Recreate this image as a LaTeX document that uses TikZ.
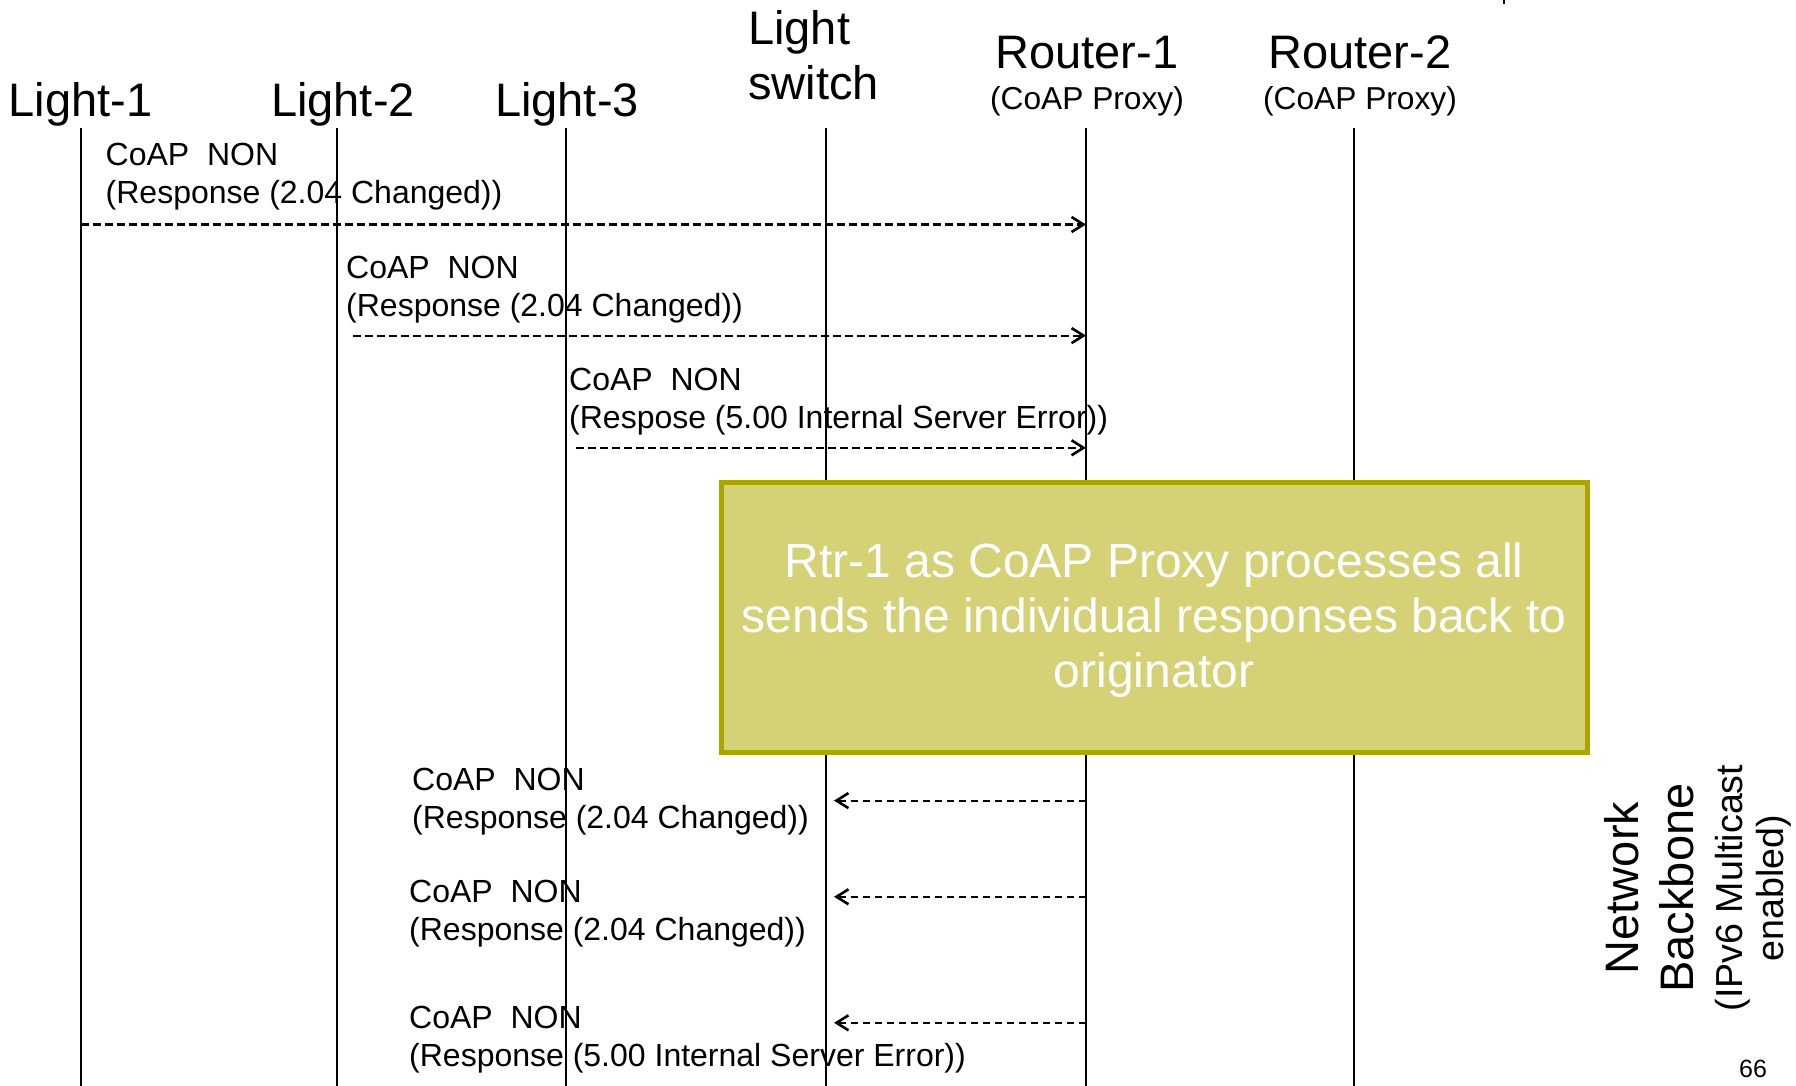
\documentclass[tikz,border=0pt]{standalone}
\usepackage{fontspec}
\setmainfont{Liberation Sans}
\usetikzlibrary{arrows.meta,calc}
\definecolor{notefill}{RGB}{213,209,119}
\definecolor{noteedge}{RGB}{170,165,0}

\begin{document}
\begin{tikzpicture}[x=1pt,y=-1pt,
  hdr/.style={font=\fontsize{47}{55}\selectfont, inner sep=0pt, anchor=base},
  hdrsub/.style={font=\fontsize{31.7}{38}\selectfont, inner sep=0pt, anchor=base},
  msgtext/.style={font=\fontsize{32}{38}\selectfont, inner sep=0pt, anchor=base west},
  side/.style={font=\fontsize{47}{55}\selectfont, inner sep=0pt, anchor=base, rotate=90},
  sidesub/.style={font=\fontsize{37.6}{44}\selectfont, inner sep=0pt, anchor=base, rotate=90},
  life/.style={line width=2pt},
  msg/.style={line width=2.2pt, dash pattern=on 7.5pt off 4.5pt,
    -{Straight Barb[length=12pt,width=15pt,line width=2.6pt]}},
  notebox/.style={draw=noteedge, fill=notefill, line width=5pt,
    minimum width=866pt, minimum height=270pt, inner sep=0pt},
  notetext/.style={inner sep=0pt, align=center, text=white,
    font=\fontsize{48}{55}\selectfont}
]
\useasboundingbox (0,0) rectangle (1796,1086);

% participants
\node[hdr] (light1) at (80.5,117) {Light-1};
\node[hdr] (light2) at (343,117) {Light-2};
\node[hdr] (light3) at (567,117) {Light-3};
\node[hdr, anchor=base west] (switch) at (748,45)
  {\vtop{\hbox{Light}\hbox{switch}}};
\node[hdr] (router1) at (1087,69) {Router-1};
\node[hdrsub] (router1sub) at (1087,110) {(CoAP Proxy)};
\node[hdr] (router2) at (1360,69) {Router-2};
\node[hdrsub] (router2sub) at (1360,110) {(CoAP Proxy)};

% lifelines
\coordinate (l1top) at (81,128);   \coordinate (l1bot) at (81,1086);
\coordinate (l2top) at (337,128);  \coordinate (l2bot) at (337,1086);
\coordinate (l3top) at (566,128);  \coordinate (l3bot) at (566,1086);
\coordinate (swtop) at (826,128);  \coordinate (swbot) at (826,1086);
\coordinate (r1top) at (1086,128); \coordinate (r1bot) at (1086,1086);
\coordinate (r2top) at (1354,128); \coordinate (r2bot) at (1354,1086);
\foreach \p in {l1,l2,l3,sw,r1,r2}
  \draw[life] (\p top) -- (\p bot);

% responses from the lights to the proxy
\coordinate (m1a) at (l1top |- 0,224.5);
\coordinate (m1b) at (r1top |- 0,224.5);
\coordinate (m2a) at ($(l2top |- 0,335.6)+(16,0)$);
\coordinate (m2b) at (r1top |- 0,335.6);
\coordinate (m3a) at ($(l3top |- 0,447.8)+(10,0)$);
\coordinate (m3b) at (r1top |- 0,447.8);
\draw[msg] (m1a) -- (m1b);
\draw[msg] (m2a) -- (m2b);
\draw[msg] (m3a) -- (m3b);

\node[msgtext] (t1) at (105.5,166)
  {\vtop{\hbox{CoAP\ \ NON}\hbox{(Response (2.04 Changed))}}};
\node[msgtext] (t2) at (346,278)
  {\vtop{\hbox{CoAP\ \ NON}\hbox{(Response (2.04 Changed))}}};
\node[msgtext] (t3) at (569,390)
  {\vtop{\hbox{CoAP\ \ NON}\hbox{(Respose (5.00 Internal Server Error))}}};

% proxy note
\node[notebox] (note) at (1154,617) {};
\node[notetext] (notetxt) at ($(note.center)+(0,3.5)$)
  {Rtr-1 as CoAP Proxy processes all\\sends the individual responses back to\\originator};

% responses from the proxy to the switch
\coordinate (m4a) at (r1top |- 0,800.6);
\coordinate (m4b) at ($(swtop |- 0,800.6)+(8,0)$);
\coordinate (m5a) at (r1top |- 0,896.8);
\coordinate (m5b) at ($(swtop |- 0,896.8)+(8,0)$);
\coordinate (m6a) at (r1top |- 0,1022.8);
\coordinate (m6b) at ($(swtop |- 0,1022.8)+(8,0)$);
\draw[msg] (m4a) -- (m4b);
\draw[msg] (m5a) -- (m5b);
\draw[msg] (m6a) -- (m6b);

\node[msgtext] (t4) at (412,790)
  {\vtop{\hbox{CoAP\ \ NON}\hbox{(Response (2.04 Changed))}}};
\node[msgtext] (t5) at (409,902.5)
  {\vtop{\hbox{CoAP\ \ NON}\hbox{(Response (2.04 Changed))}}};
\node[msgtext] (t6) at (409,1028.5)
  {\vtop{\hbox{CoAP\ \ NON}\hbox{(Response (5.00 Internal Server Error))}}};

% backbone caption
\node[side] (net1) at (1638,888) {Network};
\node[side] (net2) at (1693,888) {Backbone};
\node[sidesub] (net3) at (1742,888) {(IPv6 Multicast};
\node[sidesub] (net4) at (1783,888) {enabled)};

% page number and top mark
\node[font=\fontsize{25}{30}\selectfont, inner sep=0pt, anchor=base] (page) at (1753,1077) {66};
\draw[line width=1.5pt] (1504,0) -- (1504,4);
\end{tikzpicture}
\end{document}
